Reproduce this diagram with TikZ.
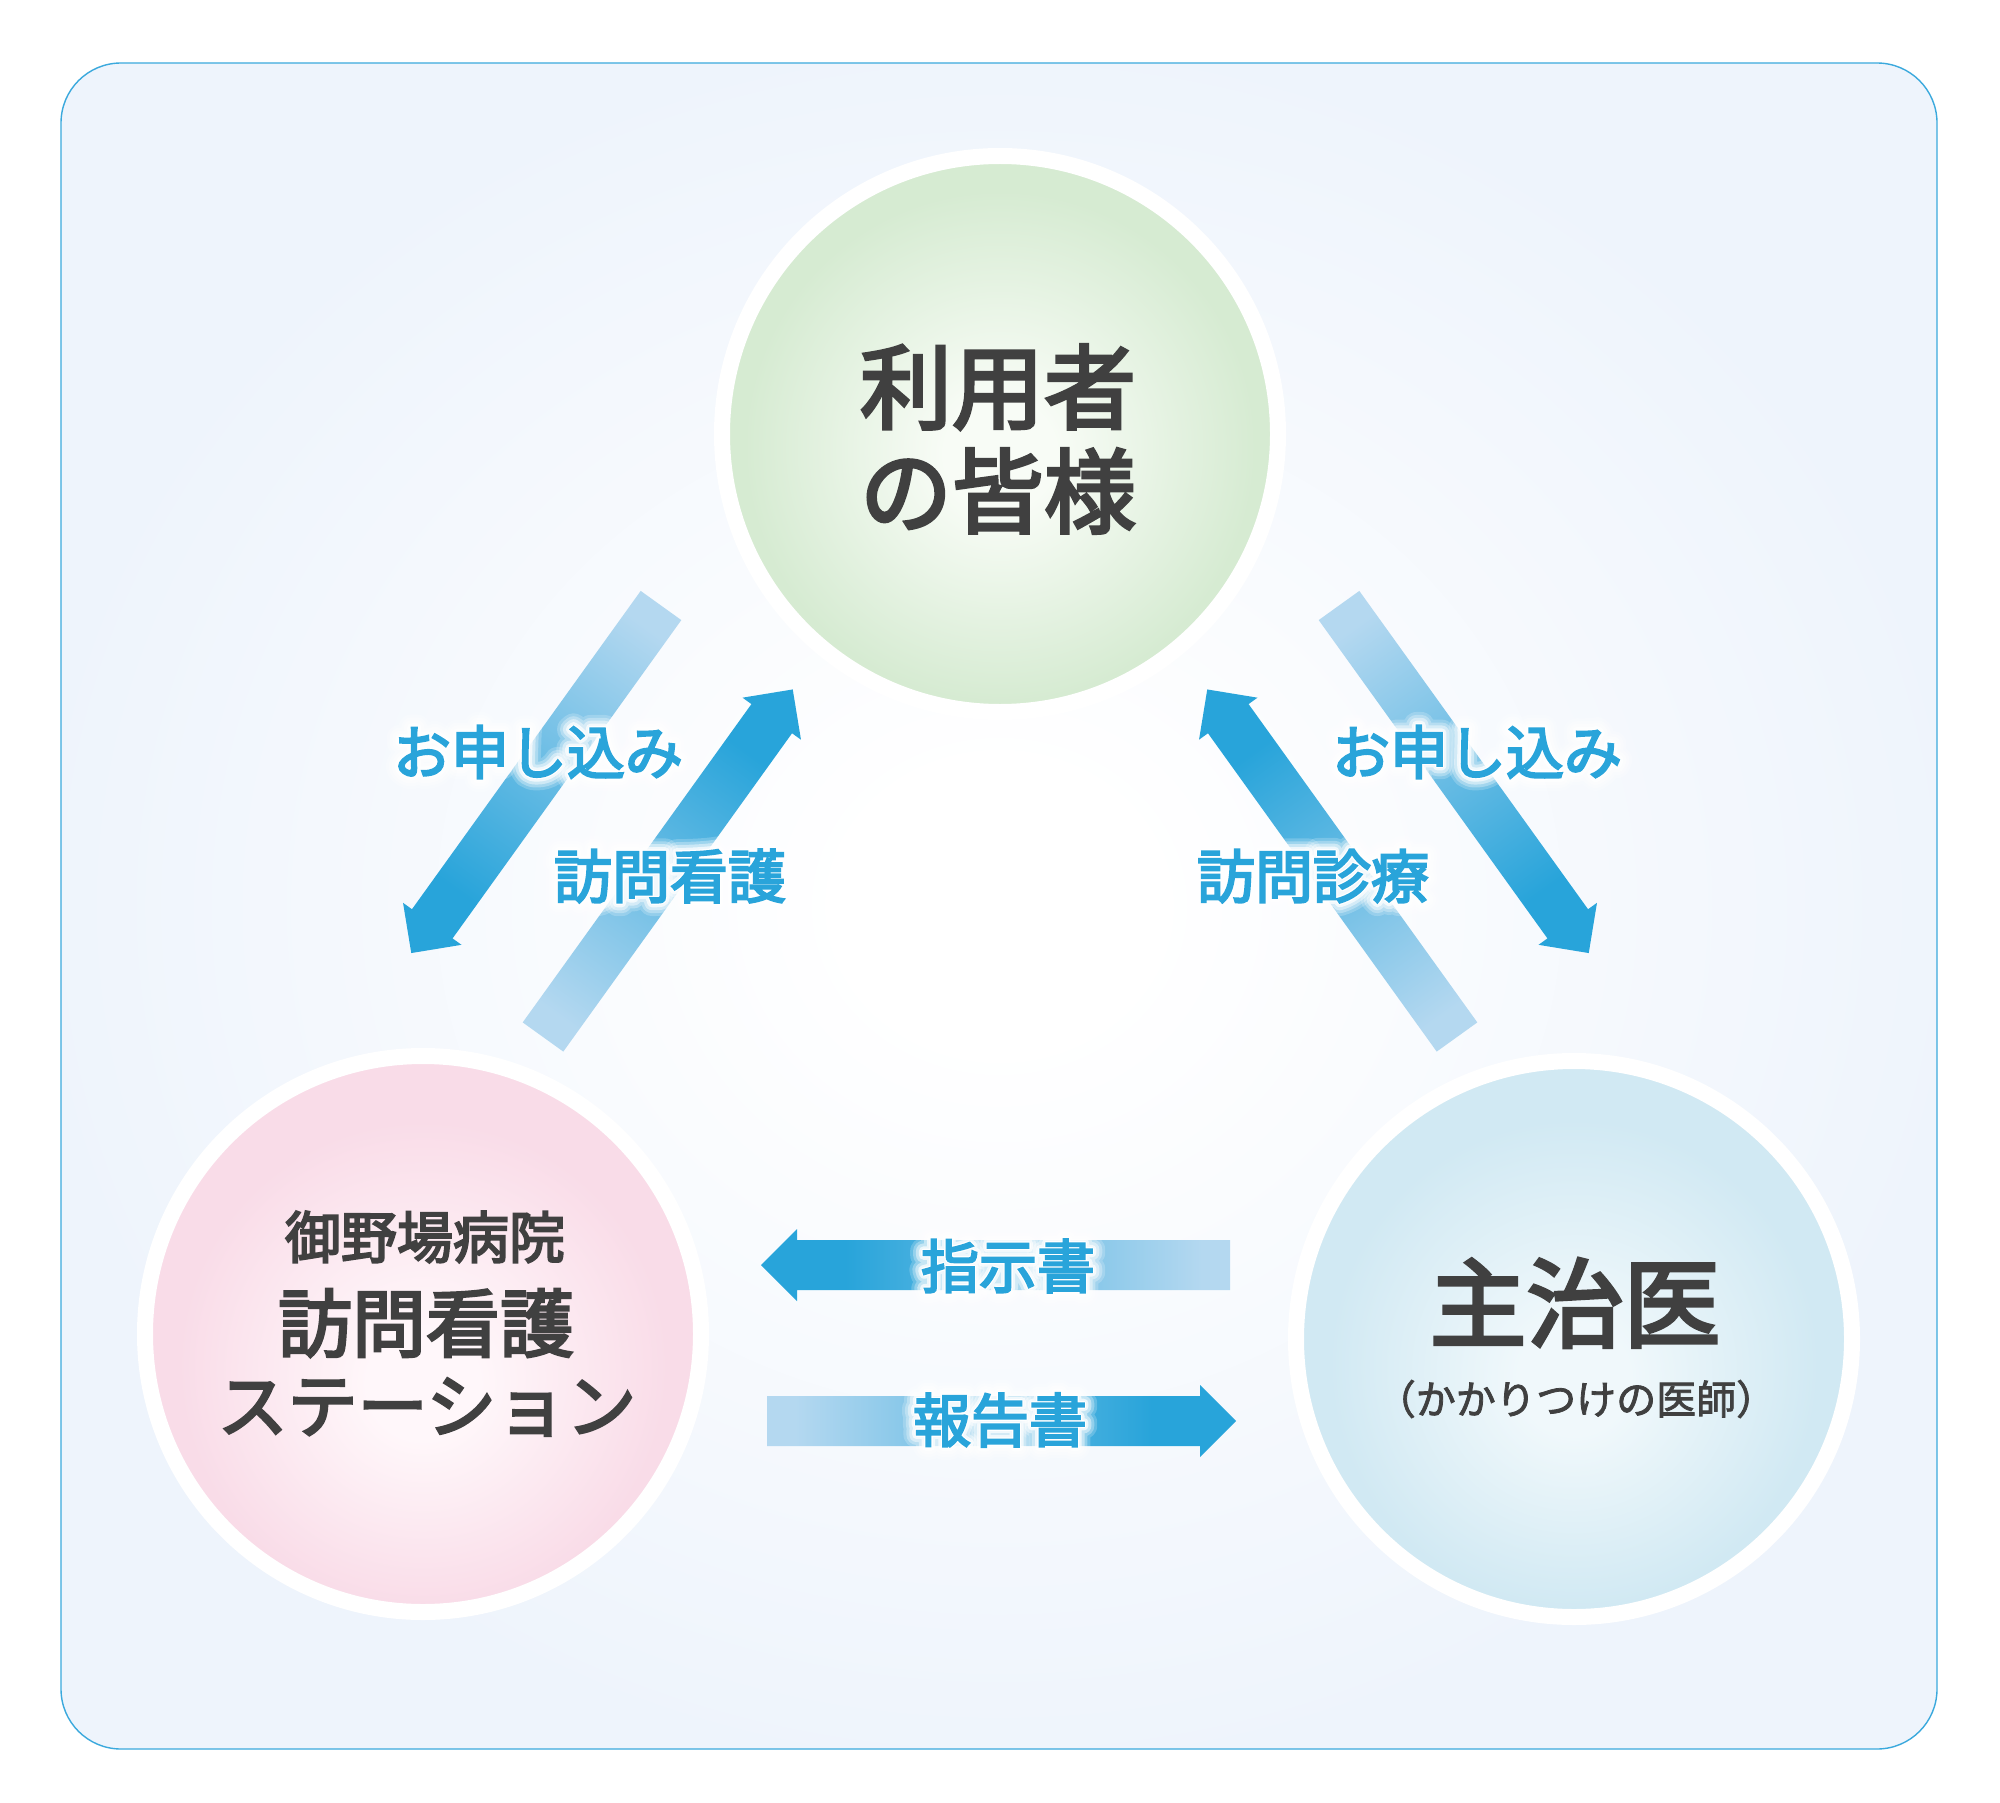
\documentclass[tikz,border=0pt]{standalone}
\usepackage{fontspec}
\newfontfamily\cjk{Noto Sans CJK JP}[FakeBold=3.5]
\newfontfamily\cjkl{Noto Sans CJK JP}[FakeBold=2]
\newfontfamily\glowA{Noto Sans CJK JP}[FakeBold=46]
\newfontfamily\glowB{Noto Sans CJK JP}[FakeBold=36]
\newfontfamily\glowC{Noto Sans CJK JP}[FakeBold=26]
\newfontfamily\glowD{Noto Sans CJK JP}[FakeBold=16]
\newfontfamily\glowE{Noto Sans CJK JP}[FakeBold=8]
\definecolor{bgedge}{HTML}{EEF4FC}
\definecolor{frame}{HTML}{3BA9DD}
\definecolor{txtgray}{HTML}{404040}
\definecolor{lblue}{HTML}{29A4DA}
\definecolor{alight}{HTML}{B4D8F0}
\definecolor{ablue}{HTML}{28A4DA}
\definecolor{greene}{HTML}{D6EBD2}
\definecolor{greenc}{HTML}{F8FCF6}
\definecolor{pinke}{HTML}{F9DCE8}
\definecolor{pinkc}{HTML}{FFF7FA}
\definecolor{bluee}{HTML}{D1E9F3}
\definecolor{bluec}{HTML}{F0F8FB}
\pgfdeclareradialshading{bgshade}{\pgfpoint{0bp}{0bp}}{color(0bp)=(white); color(4bp)=(white); color(26bp)=(bgedge); color(50bp)=(bgedge)}
\pgfdeclareradialshading{greenshade}{\pgfpoint{0bp}{-2bp}}{color(0bp)=(greenc); color(5bp)=(greenc); color(23bp)=(greene); color(50bp)=(greene)}
\pgfdeclareradialshading{pinkshade}{\pgfpoint{0bp}{-5bp}}{color(0bp)=(pinkc); color(5bp)=(pinkc); color(22bp)=(pinke); color(50bp)=(pinke)}
\pgfdeclareradialshading{blueshade}{\pgfpoint{0bp}{-4bp}}{color(0bp)=(bluec); color(5bp)=(bluec); color(22bp)=(bluee); color(50bp)=(bluee)}
\pgfdeclarehorizontalshading{arrowshade}{100bp}{color(0bp)=(alight); color(28bp)=(alight); color(66bp)=(ablue); color(100bp)=(ablue)}
\tikzset{
  ring/.style={circle, draw=white, line width=16, minimum size=556, inner sep=0, outer sep=0},
  dark/.style={text=txtgray, inner sep=0, align=center},
  lbl/.style={text=lblue, inner sep=0, font=\cjk\fontsize{58}{58}\selectfont},
  glow/.style={lbl, text=white, line join=round, line cap=round, opacity=#1},
}
\newcommand{\blockarrow}[3]{%
  \begin{scope}[transform canvas={shift={(#1)},rotate=#2}]
    \shade[shading=arrowshade] (0,-25) -- ({#3-36},-25) -- ({#3-36},-36) -- (#3,0) -- ({#3-36},36) -- ({#3-36},25) -- (0,25) -- cycle;
  \end{scope}}
\newcommand{\glowlbl}[4]{%
  \node[glow=0.2, font=\glowA\fontsize{58}{58}\selectfont] at (#2,#3) {#4};
  \node[glow=0.3, font=\glowB\fontsize{58}{58}\selectfont] at (#2,#3) {#4};
  \node[glow=0.45, font=\glowC\fontsize{58}{58}\selectfont] at (#2,#3) {#4};
  \node[glow=0.7, font=\glowD\fontsize{58}{58}\selectfont] at (#2,#3) {#4};
  \node[glow=1, font=\glowE\fontsize{58}{58}\selectfont] at (#2,#3) {#4};
  \node[lbl] (#1) at (#2,#3) {#4};}
\begin{document}
\begin{tikzpicture}[x=1pt,y=-1pt]
\useasboundingbox (0,0) rectangle (2000,1803);
\fill[white] (0,0) rectangle (2000,1803);
\shadedraw[shading=bgshade, draw=frame, line width=1.4, rounded corners=60] (61,63) rectangle (1937,1749);

% circles
\node[ring, shading=greenshade] (user) at (1000,434) {};
\node[ring, shading=pinkshade] (station) at (423,1334) {};
\node[ring, shading=blueshade] (doctor) at (1574,1339) {};

% circle texts
\node[dark, font=\cjk\fontsize{92}{104}\selectfont] (usertxt) at (998,439) {利用者\\の皆様};
\node[dark, font=\cjk\fontsize{56}{56}\selectfont] (hosp) at (425,1237) {御野場病院};
\node[dark, font=\cjk\fontsize{74}{74}\selectfont] (visit) at (426,1323) {訪問看護};
\node[dark, font=\cjk\fontsize{70}{70}\selectfont] (stat) at (427,1407) {ステーション};
\node[dark, font=\cjk\fontsize{97}{97}\selectfont] (doc) at (1575,1303) {主治医};
\node[dark, font=\cjkl\fontsize{40}{40}\selectfont] (docsub) at (1576,1399) {（かかりつけの医師）};

% arrows
\coordinate (a1) at (661,605.5);
\coordinate (a2) at (543,1037);
\coordinate (a3) at (1339,605.5);
\coordinate (a4) at (1457,1037);
\coordinate (a5) at (1230,1265);
\coordinate (a6) at (767,1421);
\blockarrow{a1}{-125.7}{428}
\blockarrow{a2}{54.3}{428}
\blockarrow{a3}{-54.3}{428}
\blockarrow{a4}{125.7}{428}
\blockarrow{a5}{180}{469}
\blockarrow{a6}{0}{469}

% labels
\glowlbl{l1}{538}{752}{お申し込み}
\glowlbl{l2}{670}{876}{訪問看護}
\glowlbl{l3}{1477}{752}{お申し込み}
\glowlbl{l4}{1313}{876}{訪問診療}
\glowlbl{l5}{1008}{1266}{指示書}
\glowlbl{l6}{1000}{1420}{報告書}
\end{tikzpicture}
\end{document}
